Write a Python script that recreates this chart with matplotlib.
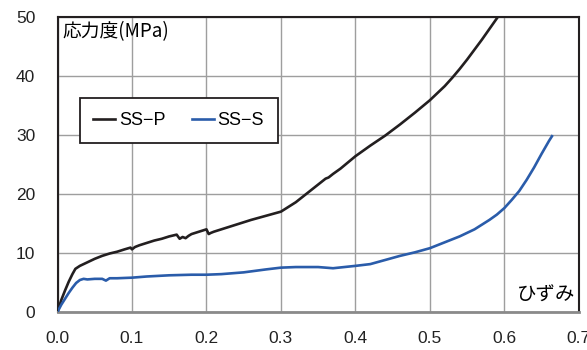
import numpy as np
import matplotlib
matplotlib.use("Agg")
import matplotlib.pyplot as plt

plt.rcParams['font.family'] = ['Liberation Sans', 'Noto Sans CJK JP', 'DejaVu Sans']

# SS-P : strain / stress (MPa)
ssp_strain = [0.000, 0.005, 0.010, 0.015, 0.020, 0.024, 0.030, 0.035, 0.040, 0.045,
              0.050, 0.060, 0.070, 0.080, 0.090, 0.098, 0.100, 0.104, 0.110, 0.120,
              0.130, 0.140, 0.150, 0.160, 0.164, 0.168, 0.172, 0.176, 0.180, 0.190,
              0.200, 0.203, 0.206, 0.210, 0.220, 0.240, 0.260, 0.280, 0.300, 0.310,
              0.320, 0.330, 0.340, 0.350, 0.360, 0.364, 0.370, 0.380, 0.400, 0.420,
              0.440, 0.460, 0.480, 0.500, 0.520, 0.530, 0.540, 0.550, 0.560, 0.570,
              0.580, 0.590, 0.600]
ssp_stress = [0.0, 2.0, 3.6, 5.1, 6.4, 7.3, 7.8, 8.1, 8.4, 8.7,
              9.0, 9.5, 9.9, 10.2, 10.6, 10.9, 10.6, 11.0, 11.3, 11.7,
              12.1, 12.4, 12.8, 13.1, 12.4, 12.7, 12.5, 12.9, 13.2, 13.6,
              14.0, 13.2, 13.4, 13.6, 14.0, 14.8, 15.6, 16.3, 17.0, 17.8,
              18.6, 19.6, 20.6, 21.6, 22.6, 22.8, 23.4, 24.3, 26.4, 28.2,
              29.9, 31.8, 33.8, 35.9, 38.3, 39.7, 41.2, 42.8, 44.5, 46.2,
              48.0, 49.8, 51.6]

# SS-S : strain / stress (MPa)
sss_strain = [0.000, 0.005, 0.010, 0.015, 0.020, 0.025, 0.030, 0.035, 0.040, 0.050,
              0.060, 0.065, 0.070, 0.080, 0.100, 0.120, 0.150, 0.180, 0.200, 0.220,
              0.250, 0.280, 0.300, 0.320, 0.350, 0.370, 0.400, 0.420, 0.440, 0.460,
              0.480, 0.500, 0.520, 0.540, 0.560, 0.580, 0.590, 0.600, 0.610, 0.620,
              0.630, 0.640, 0.650, 0.660, 0.664]
sss_stress = [0.0, 1.2, 2.2, 3.2, 4.1, 4.9, 5.4, 5.6, 5.5, 5.6,
              5.6, 5.3, 5.7, 5.7, 5.8, 6.0, 6.2, 6.3, 6.3, 6.4,
              6.7, 7.2, 7.5, 7.6, 7.6, 7.4, 7.8, 8.1, 8.8, 9.5,
              10.1, 10.8, 11.8, 12.8, 14.0, 15.6, 16.5, 17.6, 19.0, 20.5,
              22.4, 24.5, 26.8, 29.0, 29.8]

xticks = [0.0, 0.1, 0.2, 0.3, 0.4, 0.5, 0.6, 0.7]
yticks = [0, 10, 20, 30, 40, 50]

fig = plt.figure(figsize=(5.87, 3.5), dpi=100)
ax = fig.add_axes([0.098, 0.109, 0.888, 0.842])

ax.plot(ssp_strain, ssp_stress, color='#231f20', lw=1.9, label='SS\u2212P', zorder=3)
ax.plot(sss_strain, sss_stress, color='#2a5caa', lw=1.9, label='SS\u2212S', zorder=3)

ax.set_xlim(0, 0.7)
ax.set_ylim(0, 50)
ax.set_xticks(xticks)
ax.set_yticks(yticks)
ax.set_xticklabels(['%.1f' % v for v in xticks])
ax.tick_params(length=0, labelsize=12.5, colors='#222222')
ax.tick_params(axis='x', pad=14)
ax.tick_params(axis='y', pad=16)
ax.grid(True, color='#9e9e9e', lw=1.0)
ax.set_axisbelow(True)

for side in ['left', 'top', 'right']:
    ax.spines[side].set_color('#231f20')
    ax.spines[side].set_linewidth(1.5)
ax.spines['bottom'].set_color('#8a8a8a')
ax.spines['bottom'].set_linewidth(2.0)

ax.text(0.010, 0.985, '応力度(MPa)', transform=ax.transAxes, ha='left', va='top',
        fontsize=13.5, family=['Noto Sans CJK JP', 'DejaVu Sans'])
ax.text(0.993, 0.022, 'ひずみ', transform=ax.transAxes, ha='right', va='bottom',
        fontsize=14, family=['Noto Sans CJK JP', 'DejaVu Sans'])

leg = ax.legend(loc='upper left', bbox_to_anchor=(0.043, 0.724), ncol=2, fontsize=13,
                frameon=True, fancybox=False, edgecolor='#231f20', framealpha=1,
                handlelength=1.2, handletextpad=0.2, columnspacing=1.5,
                borderpad=0.75, borderaxespad=0)
leg.get_frame().set_linewidth(1.3)

fig.savefig('out.png', dpi=100)
